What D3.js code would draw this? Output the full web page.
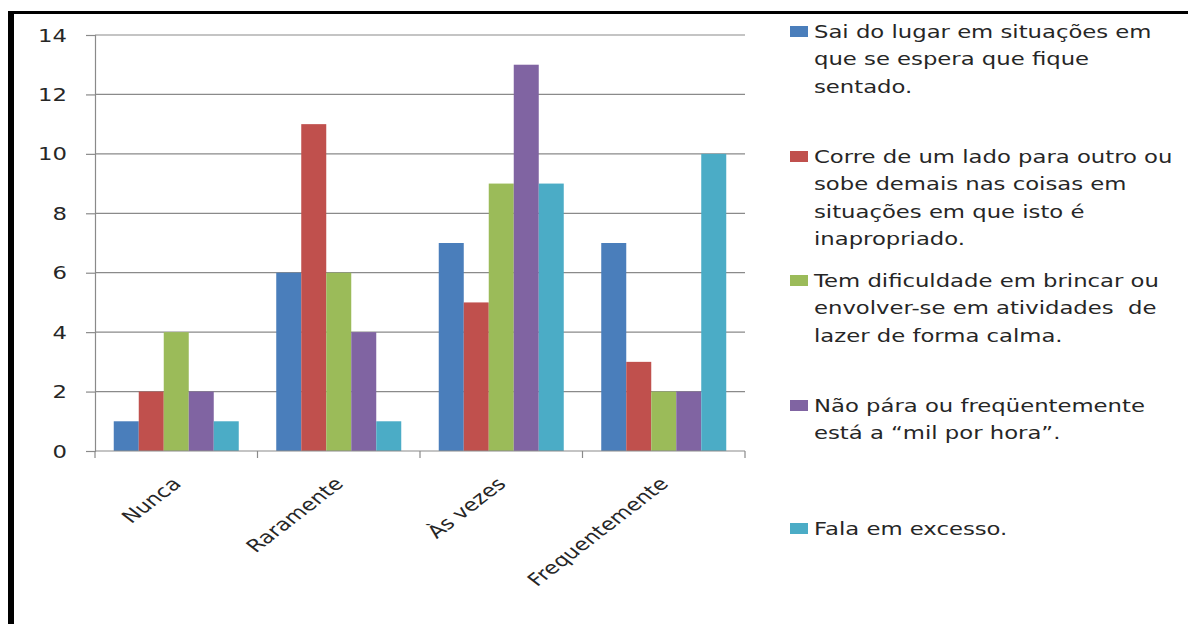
<!DOCTYPE html>
<html>
<head>
<meta charset="utf-8">
<script src="https://cdn.jsdelivr.net/npm/d3@7"></script>
<style>
body { margin: 0; background: #fff; }
svg text { font-family: "DejaVu Sans", sans-serif; fill: #262626; }
</style>
</head>
<body>
<svg width="1188" height="624"></svg>
<script>
// data
var categories = ["Nunca", "Raramente", "Às vezes", "Frequentemente"];
var seriesNames = [
	["Sai do lugar em situações em", "que se espera que fique", "sentado."],
	["Corre de um lado para outro ou", "sobe demais nas coisas em", "situações em que isto é", "inapropriado."],
	["Tem dificuldade em brincar ou", "envolver-se em atividades  de", "lazer de forma calma."],
	["Não pára ou freqüentemente", "está a \u201cmil por hora\u201d."],
	["Fala em excesso."]
];
var values = [
	[1, 6, 7, 7],
	[2, 11, 5, 3],
	[4, 6, 9, 2],
	[2, 4, 13, 2],
	[1, 1, 9, 10]
];
var yTicks = [0, 2, 4, 6, 8, 10, 12, 14];
var colors = ["#4a7ebb", "#c0504d", "#9bbb59", "#8064a2", "#4bacc6"];

// the whole picture looks stretched sideways, so text gets a wider scale
var stretch = 1.3;
var fontSize = 17.5;

var svg = d3.select("svg");

// frame: top line and thick left line
svg.append("line").attr("x1", 8).attr("x2", 1188).attr("y1", 12.5).attr("y2", 12.5)
	.attr("stroke", "#000").attr("stroke-width", 3);
svg.append("line").attr("x1", 11).attr("x2", 11).attr("y1", 11).attr("y2", 624)
	.attr("stroke", "#000").attr("stroke-width", 6);

var x0 = d3.scaleBand().domain(categories).range([95, 745]).paddingInner(0).paddingOuter(0);
var x1 = d3.scaleBand().domain(d3.range(values.length))
	.range([0, x0.bandwidth()]).paddingOuter(0.75).paddingInner(0);
var y = d3.scaleLinear().domain([0, 14]).range([451, 35]);

// gridlines
svg.append("g").selectAll("line").data(yTicks.slice(1)).join("line")
	.attr("x1", 95).attr("x2", 745)
	.attr("y1", function(d){ return y(d); }).attr("y2", function(d){ return y(d); })
	.attr("stroke", "#8a8a8a").attr("stroke-width", 1.2);

// bars
var groups = svg.append("g").selectAll("g").data(values).join("g")
	.attr("fill", function(d, i){ return colors[i]; });
groups.each(function(row, si){
	d3.select(this).selectAll("rect").data(row).join("rect")
		.attr("x", function(d, ci){ return x0(categories[ci]) + x1(si); })
		.attr("y", function(d){ return y(d); })
		.attr("width", x1.bandwidth())
		.attr("height", function(d){ return y(0) - y(d); });
});

// y axis
var yAxis = svg.append("g").attr("transform", "translate(95,0)")
	.call(d3.axisLeft(y).tickValues(yTicks).tickSize(9).tickPadding(0));
yAxis.select(".domain").attr("stroke", "#8a8a8a").attr("stroke-width", 1.2);
yAxis.selectAll(".tick line").attr("stroke", "#8a8a8a").attr("stroke-width", 1.2);
yAxis.selectAll(".tick text").attr("x", null).attr("dy", null)
	.attr("font-size", fontSize).attr("text-anchor", "end")
	.attr("transform", "translate(-28,6) scale(" + stretch + ",1)");

// x axis, ticks sit on the band edges
var xAxis = svg.append("g").attr("transform", "translate(0,451)");
xAxis.append("line").attr("x1", 95).attr("x2", 745)
	.attr("stroke", "#8a8a8a").attr("stroke-width", 1.2);
xAxis.selectAll(".edge").data(d3.range(categories.length + 1)).join("line")
	.attr("class", "edge")
	.attr("x1", function(i){ return 95 + i * x0.step(); })
	.attr("x2", function(i){ return 95 + i * x0.step(); })
	.attr("y1", 0).attr("y2", 7)
	.attr("stroke", "#8a8a8a").attr("stroke-width", 1.2);
xAxis.selectAll("text").data(categories).join("text")
	.attr("font-size", fontSize).attr("text-anchor", "end")
	.attr("transform", function(d){
		return "translate(" + (x0(d) + x0.bandwidth() / 2 + 6) + ",34) scale(" + stretch + ",1) rotate(-45)";
	})
	.text(function(d){ return d; });

// legend
var legendTop = [32, 157, 281, 406, 529];
var lineH = 27.3;
var legend = svg.append("g").selectAll("g").data(seriesNames).join("g")
	.attr("transform", function(d, i){ return "translate(790," + legendTop[i] + ")"; });
legend.append("rect").attr("x", 0).attr("y", -6).attr("width", 18).attr("height", 11)
	.attr("fill", function(d, i){ return colors[i]; });
legend.append("text").attr("font-size", fontSize)
	.attr("transform", "translate(24,6) scale(" + stretch + ",1)")
	.selectAll("tspan").data(function(d){ return d; }).join("tspan")
	.attr("x", 0).attr("y", function(d, i){ return i * lineH; })
	.attr("xml:space", "preserve")
	.text(function(d){ return d; });
</script>
</body>
</html>
